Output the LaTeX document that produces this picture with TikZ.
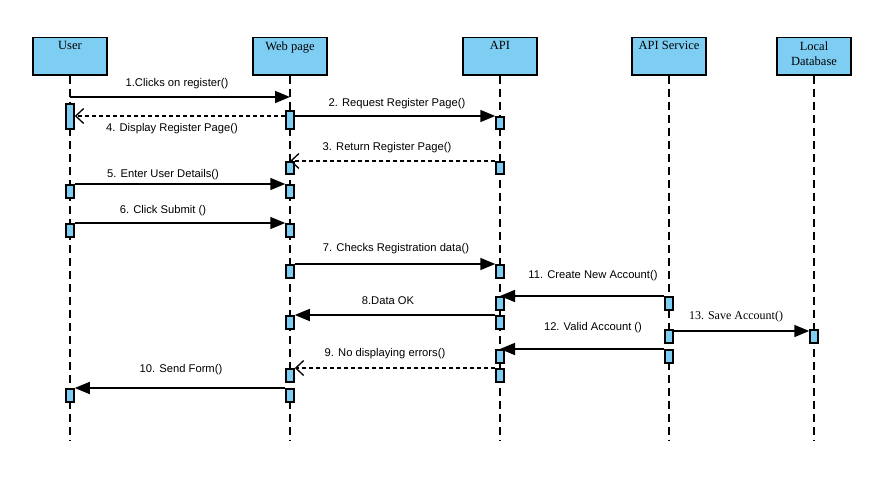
\documentclass[tikz,border=0pt]{standalone}
\usepackage{fontspec}
\setmainfont{Liberation Serif}
\newfontfamily\arialf{Liberation Sans}
\usetikzlibrary{arrows.meta,calc}
\definecolor{actblue}{RGB}{126,206,244}
\begin{document}
\begin{tikzpicture}[x=1pt,y=-1pt,
  head/.style={draw=black, line width=1.5pt, fill=actblue, minimum width=74pt, minimum height=37pt, anchor=north, inner sep=0pt},
  htext/.style={anchor=north, yshift=-1pt, align=center, font=\fontsize{12.5}{15}\selectfont},
  lifeline/.style={line width=1.5pt, dash pattern=on 8pt off 5pt},
  act/.style={draw=black, line width=1.5pt, fill=actblue, minimum width=8pt, inner sep=0pt, anchor=north},
  msg/.style={line width=1.6pt, -{Triangle[length=15pt,width=12pt]}},
  ret/.style={line width=1.3pt, dash pattern=on 4pt off 3pt, -{Straight Barb[length=8pt,width=15pt,line width=1.3pt]}},
  lbl/.style={font=\arialf\fontsize{11.2}{13}\selectfont, inner sep=0pt},
  slbl/.style={font=\fontsize{12}{13}\selectfont, inner sep=0pt}
]
\useasboundingbox (0,0) rectangle (891,487);
% heads
\node[head, label={[htext]north:User}] (user) at (70,37) {};
\node[head, label={[htext]north:Web page}] (web) at (290,37) {};
\node[head, label={[htext]north:API}] (api) at (500,37) {};
\node[head, label={[htext]north:API Service}] (srv) at (669,37) {};
\node[head, label={[htext]north:{Local\\Database}}] (db) at (814,37) {};
\coordinate (bot) at (0,440);
\foreach \n in {user,web,api,srv,db}
  \draw[lifeline] (\n.south) -- (\n.south |- bot);
% activations
\node[act, minimum height=25pt] (u1) at (70,103) {};
\node[act, minimum height=18pt] (w1) at (290,110) {};
\node[act, minimum height=12pt] (a1) at (500,116) {};
\node[act, minimum height=12pt] (w2) at (290,161) {};
\node[act, minimum height=12pt] (a2) at (500,161) {};
\node[act, minimum height=13pt] (u2) at (70,184) {};
\node[act, minimum height=13pt] (w3) at (290,184) {};
\node[act, minimum height=13pt] (u3) at (70,223) {};
\node[act, minimum height=13pt] (w4) at (290,223) {};
\node[act, minimum height=13pt] (w5) at (290,264) {};
\node[act, minimum height=13pt] (a3) at (500,264) {};
\node[act, minimum height=13pt] (s1) at (669,296) {};
\node[act, minimum height=13pt] (a4) at (500,296) {};
\node[act, minimum height=13pt] (a5) at (500,315) {};
\node[act, minimum height=13pt] (w6) at (290,315) {};
\node[act, minimum height=13pt] (s2) at (669,329) {};
\node[act, minimum height=13pt] (d1) at (814,329) {};
\node[act, minimum height=13pt] (s3) at (669,349) {};
\node[act, minimum height=13pt] (a6) at (500,349) {};
\node[act, minimum height=13pt] (a7) at (500,368) {};
\node[act, minimum height=13pt] (w7) at (290,368) {};
\node[act, minimum height=13pt] (w8) at (290,388) {};
\node[act, minimum height=13pt] (u4) at (70,388) {};
% messages
\coordinate (m1s) at (70,97);
\coordinate (m1e) at (290,97);
\draw[msg] (m1s) -- (m1e);
\draw[ret] (w1.west |- a1.north) -- (u1.east |- a1.north);
\draw[msg] (w1.east |- a1.north) -- (a1.north west);
\draw[ret] (a2.north west) -- (w2.north);
\draw[msg] (u2.north east) -- (w3.north west);
\draw[msg] (u3.north east) -- (w4.north west);
\draw[msg] (w5.north east) -- (a3.north west);
\draw[msg] (s1.north west) -- (a4.north);
\draw[msg] (a5.north west) -- (w6.north east);
\draw[msg] ($(s2.north east)+(0,2)$) -- ($(d1.north west)+(0,2)$);
\draw[msg] (s3.north west) -- (a6.north);
\draw[ret] (a7.north west) -- (w7.north east);
\draw[msg] (w8.north west) -- (u4.north east);
% labels
\node[lbl] (l1) at (177,84) {1.Clicks on register()};
\node[lbl] (l4) at (172,129) {4. Display Register Page()};
\node[lbl] (l2) at (397,104) {2. Request Register Page()};
\node[lbl] (l3) at (387,148) {3. Return Register Page()};
\node[lbl] (l5) at (163,175) {5. Enter User Details()};
\node[lbl] (l6) at (163,211) {6. Click Submit ()};
\node[lbl] (l7) at (396,249) {7. Checks Registration data()};
\node[lbl] (l11) at (593,276) {11. Create New Account()};
\node[lbl] (l8) at (388,301) {8.Data OK};
\node[lbl] (l12) at (593,328) {12. Valid Account ()};
\node[lbl] (l9) at (385,354) {9. No displaying errors()};
\node[lbl] (l10) at (181,370) {10. Send Form()};
\node[slbl] (l13) at (736,317) {13. Save Account()};
\end{tikzpicture}
\end{document}
